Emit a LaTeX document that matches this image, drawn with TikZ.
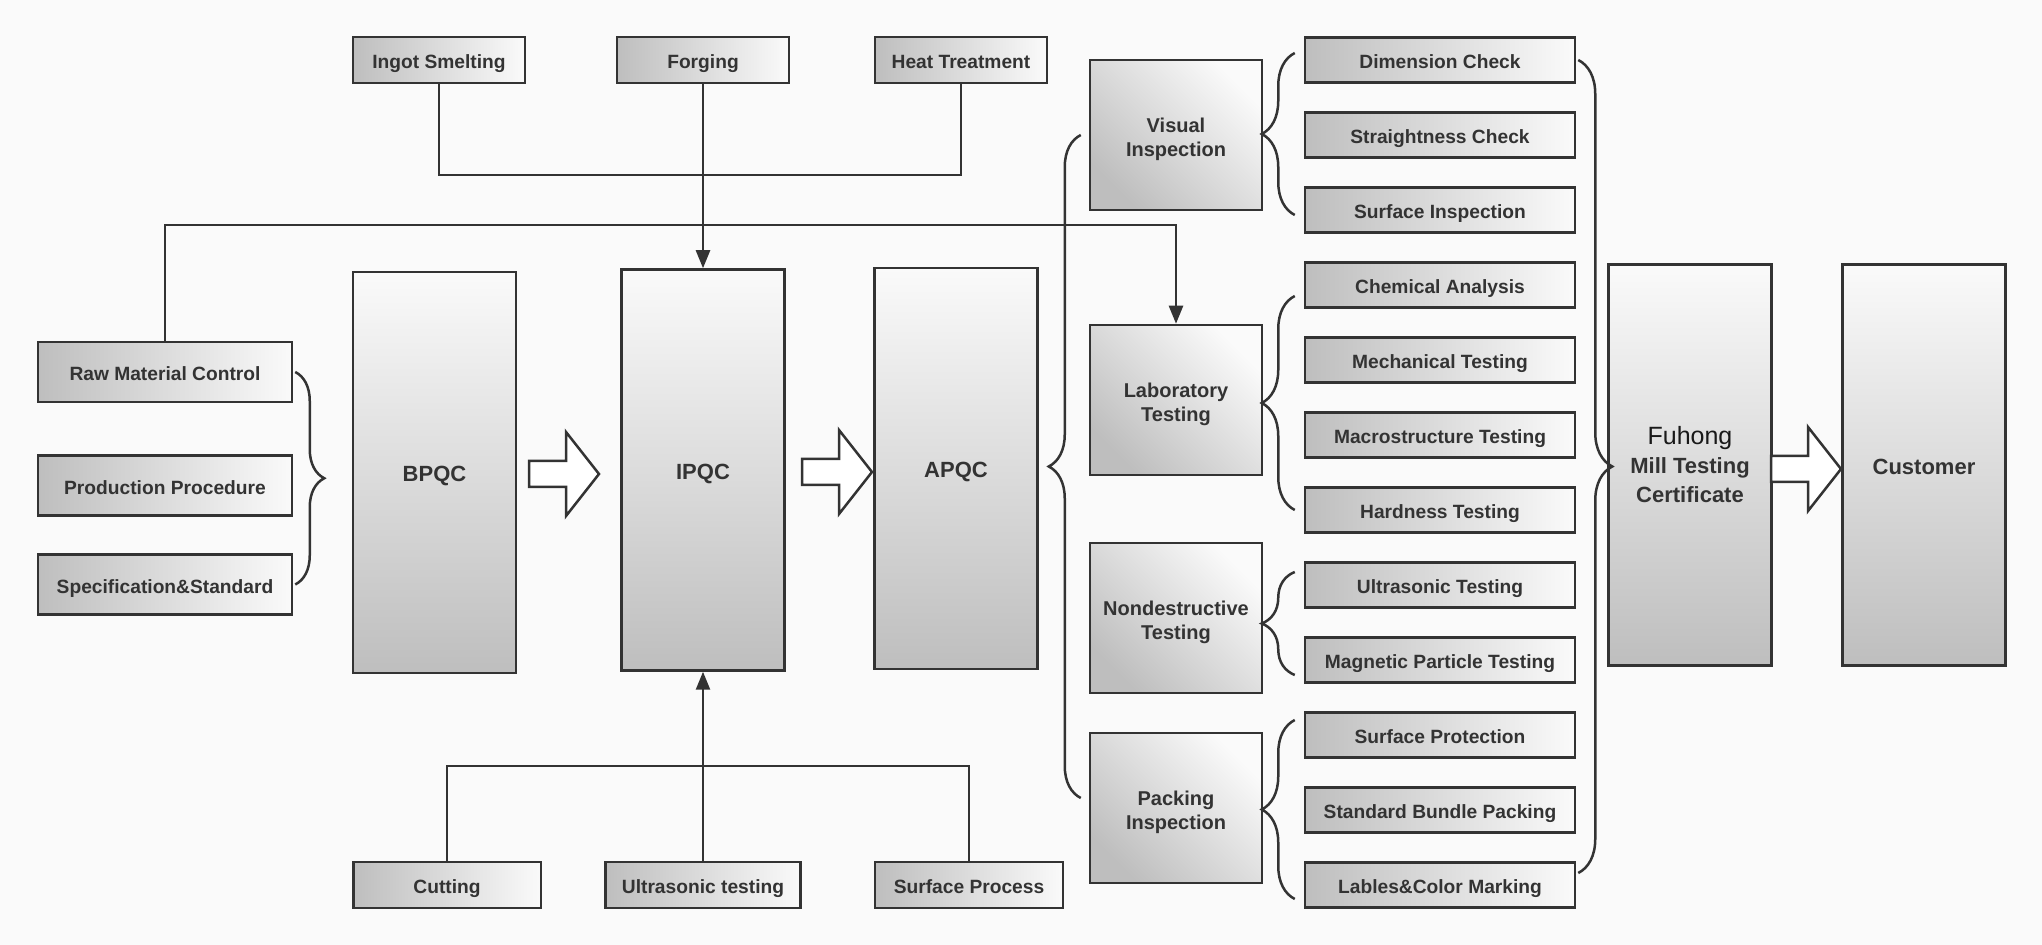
\documentclass[tikz,border=0pt]{standalone}
\usepackage{fontspec}
\setmainfont{Liberation Sans}
\usetikzlibrary{positioning,arrows.meta,decorations.pathreplacing}

\definecolor{linegray}{HTML}{333333}
\definecolor{shadegray}{HTML}{BEBEBE}
\definecolor{paper}{HTML}{FAFAFA}

% hollow block arrow, tail at #1
\newcommand{\fatarrow}[1]{\draw[fatarrow] (#1) ++(0,-13) -- ++(37,0) -- ++(0,-29) -- ++(33,42) -- ++(-33,42) -- ++(0,-29) -- ++(-37,0) -- cycle;}

\begin{document}
\begin{tikzpicture}[
    x = 0.5pt, y = -0.5pt,
    > = {Triangle[length=9pt,width=7pt]},
    node distance = 13.75pt,
    box/.style = {draw=linegray, line width=1.25pt, text=linegray, inner sep=0pt, align=center},
    sidebox/.style = {box, left color=shadegray, right color=paper, font=\fontsize{9.6}{11}\selectfont\bfseries, minimum height=23pt, text height=9pt, text depth=0pt},
    leftbox/.style = {sidebox, minimum width=127pt, minimum height=30pt},
    topbox/.style = {sidebox, minimum width=86pt},
    checkbox/.style = {sidebox, minimum width=135pt, minimum height=22.5pt},
    stagebox/.style = {box, top color=paper, bottom color=shadegray, minimum width=81.5pt, minimum height=200.5pt, font=\fontsize{11}{14.5}\selectfont\bfseries},
    oneline/.style = {text height=9.4pt, text depth=0pt},
    groupbox/.style = {box, top color=paper, bottom color=shadegray, shading angle=-45, minimum width=86pt, minimum height=75pt, font=\fontsize{10}{12}\selectfont\bfseries},
    conn/.style = {draw=linegray, line width=1.25pt},
    curly/.style = {draw=linegray, line width=1.25pt, decorate, decoration={brace, amplitude=#1}},
    fatarrow/.style = {draw=linegray, fill=white, line width=1.25pt, line join=miter}
]
    \fill[paper] (0,0) rectangle (2042,945);
    \useasboundingbox (0,0) rectangle (2042,945);

    % inputs on the left
    \node[leftbox] (raw)  at (165,372)   {Raw Material Control};
    \node[leftbox] (proc) at (165,485.5) {Production Procedure};
    \node[leftbox] (spec) at (165,584.5) {Specification\&Standard};

    % main stages
    \node[stagebox, oneline] (bpqc) at (434.5,472.5) {BPQC};
    \node[stagebox, oneline] (ipqc) at (703,470)     {IPQC};
    \node[stagebox, oneline] (apqc) at (956,468.5)   {APQC};
    \node[stagebox] (mtc)  at (1690,465)    {{\fontsize{12.5}{14.5}\selectfont\mdseries\color{black!90}Fuhong}\\Mill Testing\\Certificate};
    \node[stagebox, oneline] (cust) at (1924,465)    {Customer};

    % in-process steps
    \node[topbox] (ingot)   at (439,60) {Ingot Smelting};
    \node[topbox] (forging) at (703,60) {Forging};
    \node[topbox] (heat)    at (961,60) {Heat Treatment};
    \node[topbox, minimum width=93.75pt] (cutting)  at (447,885) {Cutting};
    \node[topbox, minimum width=97.5pt]  (ultra)    at (703,885) {Ultrasonic testing};
    \node[topbox, minimum width=94pt]    (surfproc) at (969,885) {Surface Process};

    % inspection groups
    \node[groupbox] (visual)  at (1176,135) {\rule{0pt}{11.3pt}Visual\\Inspection};
    \node[groupbox] (lab)     at (1176,400) {\rule{0pt}{11.3pt}Laboratory\\Testing};
    \node[groupbox] (ndt)     at (1176,618) {\rule{0pt}{11.3pt}Nondestructive\\Testing};
    \node[groupbox] (packing) at (1176,808) {\rule{0pt}{11.3pt}Packing\\Inspection};

    % single checks
    \node[checkbox] (dim) at (1440,60) {Dimension Check};
    \node[checkbox, below=of dim]      (straight) {Straightness Check};
    \node[checkbox, below=of straight] (surfinsp) {Surface Inspection};
    \node[checkbox, below=of surfinsp] (chem)     {Chemical Analysis};
    \node[checkbox, below=of chem]     (mech)     {Mechanical Testing};
    \node[checkbox, below=of mech]     (macro)    {Macrostructure Testing};
    \node[checkbox, below=of macro]    (hard)     {Hardness Testing};
    \node[checkbox, below=of hard]     (ut)       {Ultrasonic Testing};
    \node[checkbox, below=of ut]       (mpt)      {Magnetic Particle Testing};
    \node[checkbox, below=of mpt]      (protect)  {Surface Protection};
    \node[checkbox, below=of protect]  (bundle)   {Standard Bundle Packing};
    \node[checkbox, below=of bundle]   (marking)  {Lables\&Color Marking};

    \coordinate (topjoin) at (703,175);
    \coordinate (botjoin) at (703,766);
    \coordinate (rawjoin) at (703,225);

    % connectors
    \draw[conn] (ingot.south) |- (topjoin) -| (heat.south);
    \draw[conn, ->] (forging.south) -- (ipqc.north);
    \draw[conn] (cutting.north) |- (botjoin) -| (surfproc.north);
    \draw[conn, ->] (ultra.north) -- (ipqc.south);
    \draw[conn, ->] (raw.north) |- (rawjoin) -| (lab.north);

    % braces
    \draw[curly=14.5pt] ([xshift=1pt]raw.east) -- ([xshift=1pt]spec.east);
    \draw[curly=16pt] ([shift={(-4pt,5pt)}]packing.west) -- ([xshift=-4pt]visual.west);
    \draw[curly=16.5pt] ([shift={(-4.5pt,-2.5pt)}]surfinsp.west) -- ([shift={(-4.5pt,3.5pt)}]dim.west);
    \draw[curly=16.5pt] ([xshift=-4.5pt]hard.west) -- ([shift={(-4.5pt,-5.5pt)}]chem.west);
    \draw[curly=16.5pt] ([shift={(-4.5pt,-7.5pt)}]mpt.west) -- ([shift={(-4.5pt,6.5pt)}]ut.west);
    \draw[curly=16.5pt] ([shift={(-4.5pt,-7pt)}]marking.west) -- ([shift={(-4.5pt,7.5pt)}]protect.west);
    \draw[curly=17pt] ([xshift=1pt]dim.east) -- ([shift={(1pt,6pt)}]marking.east);

    % block arrows
    \coordinate (arr1) at (529,474);
    \coordinate (arr2) at (802,472);
    \coordinate (arr3) at (1771,469);
    \fatarrow{arr1}
    \fatarrow{arr2}
    \fatarrow{arr3}
\end{tikzpicture}
\end{document}
